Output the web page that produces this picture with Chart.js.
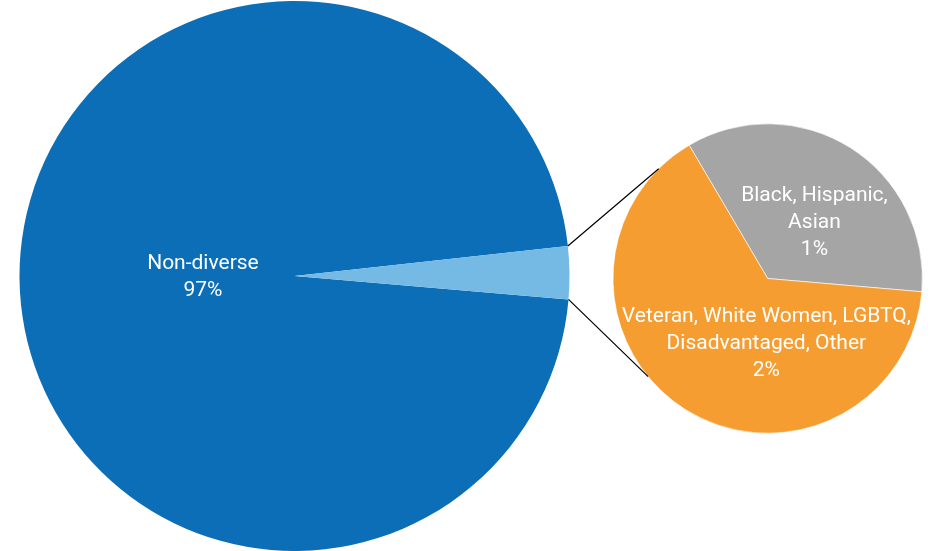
<!DOCTYPE html>
<html>
<head>
<meta charset="utf-8">
<script src="https://cdn.jsdelivr.net/npm/chart.js@4.4.1/dist/chart.umd.min.js"></script>
<style>
    html, body { margin: 0; padding: 0; background: #ffffff; }
    #wrap { position: relative; width: 931px; height: 551px; overflow: hidden; }
    #wrap canvas { position: absolute; left: 0; top: 0; }
</style>
</head>
<body>
<div id="wrap">
    <canvas id="mainPie" width="931" height="551"></canvas>
    <canvas id="splitPie" width="931" height="551"></canvas>
</div>
<script>
// Dữ liệu biểu đồ (phần trăm)
const mainCategories = [["Non-diverse"], ["Diverse"]];
const mainValues = [96.9, 3.1];
const splitCategories = [["Black, Hispanic,", "Asian"], ["Veteran, White Women, LGBTQ,", "Disadvantaged, Other"]];
const splitValues = [1.08, 2.02];

const FONT = "400 21px Roboto, 'Open Sans', sans-serif";

// Vẽ nhãn chữ trắng bên trong từng lát bánh
const sliceLabels = {
    id: "sliceLabels",
    afterDatasetsDraw(chart, args, opts) {
        const ctx = chart.ctx;
        const meta = chart.getDatasetMeta(0);
        const cats = chart.data.labels;
        const vals = chart.data.datasets[0].data;
        ctx.save();
        ctx.font = FONT;
        ctx.fillStyle = "#ffffff";
        ctx.textAlign = "center";
        ctx.textBaseline = "middle";
        meta.data.forEach((arc, i) => {
            if (!opts.show[i]) return;
            const lines = cats[i].concat([Math.round(vals[i]) + "%"]);
            const mid = (arc.startAngle + arc.endAngle) / 2;
            const R = arc.outerRadius;
            let x = arc.x + Math.cos(mid) * R * opts.factor + opts.shift[i][0];
            const y = arc.y + Math.sin(mid) * R * opts.factor + opts.shift[i][1];
            const lh = opts.lineHeight;
            const n = lines.length;
            // giữ chữ nằm gọn trong hình tròn
            let lo = -Infinity, hi = Infinity;
            lines.forEach((t, j) => {
                const ly = y + (j - (n - 1) / 2) * lh;
                const dy = ly - arc.y;
                const half = Math.sqrt(Math.max(R * R - dy * dy, 0)) - 4;
                const w = ctx.measureText(t).width;
                lo = Math.max(lo, arc.x - half + w / 2);
                hi = Math.min(hi, arc.x + half - w / 2);
            });
            if (lo <= hi) x = Math.min(Math.max(x, lo), hi);
            lines.forEach((t, j) => {
                ctx.fillText(t, x, y + (j - (n - 1) / 2) * lh);
            });
        });
        ctx.restore();
    },
};

// Đường nối giữa lát nhỏ của bánh lớn và bánh phụ
const connectors = {
    id: "connectors",
    afterDraw(chart, args, opts) {
        const src = mainChart.getDatasetMeta(0).data[1];
        const dst = chart.getDatasetMeta(0).data[0];
        const R = src.outerRadius;
        const r = dst.outerRadius;
        const toRad = (d) => (d * Math.PI) / 180;
        const ctx = chart.ctx;
        ctx.save();
        ctx.strokeStyle = "#000000";
        ctx.lineWidth = 1.2;
        ctx.beginPath();
        ctx.moveTo(src.x + Math.cos(src.startAngle) * R, src.y + Math.sin(src.startAngle) * R);
        ctx.lineTo(dst.x + Math.cos(toRad(opts.topAngle)) * r, dst.y + Math.sin(toRad(opts.topAngle)) * r);
        ctx.moveTo(src.x + Math.cos(src.endAngle) * R, src.y + Math.sin(src.endAngle) * R);
        ctx.lineTo(dst.x + Math.cos(toRad(opts.bottomAngle)) * r, dst.y + Math.sin(toRad(opts.bottomAngle)) * r);
        ctx.stroke();
        ctx.restore();
    },
};

const mainChart = new Chart(document.getElementById("mainPie"), {
    type: "pie",
    data: {
        labels: mainCategories,
        datasets: [{
            data: mainValues,
            backgroundColor: ["#0b6eb6", "#74bae5"],
            borderWidth: 0,
        }],
    },
    options: {
        responsive: false,
        animation: false,
        devicePixelRatio: 1,
        rotation: 90 + (mainValues[1] / 2) * 3.6 - 0.7,
        layout: { padding: { left: 19.5, right: 361.5, top: 1, bottom: 0 } },
        plugins: {
            legend: { display: false },
            tooltip: { enabled: false },
            sliceLabels: { show: [true, false], factor: 0.333, lineHeight: 27, shift: [[0, 0], [0, 0]] },
        },
    },
    plugins: [sliceLabels],
});

const splitChart = new Chart(document.getElementById("splitPie"), {
    type: "pie",
    data: {
        labels: splitCategories,
        datasets: [{
            data: splitValues,
            backgroundColor: ["#a5a5a5", "#f59d31"],
            borderColor: "#ffffff",
            borderWidth: 0.6,
        }],
    },
    options: {
        responsive: false,
        animation: false,
        devicePixelRatio: 1,
        rotation: -30.5,
        layout: { padding: { left: 612.7, right: 8.3, top: 123.5, bottom: 117.5 } },
        plugins: {
            legend: { display: false },
            tooltip: { enabled: false },
            sliceLabels: { show: [true, true], factor: 0.47, lineHeight: 27, shift: [[8, 6], [0, 4]] },
            connectors: { topAngle: 225.2, bottomAngle: 140.6 },
        },
    },
    plugins: [sliceLabels, connectors],
});
</script>
</body>
</html>
